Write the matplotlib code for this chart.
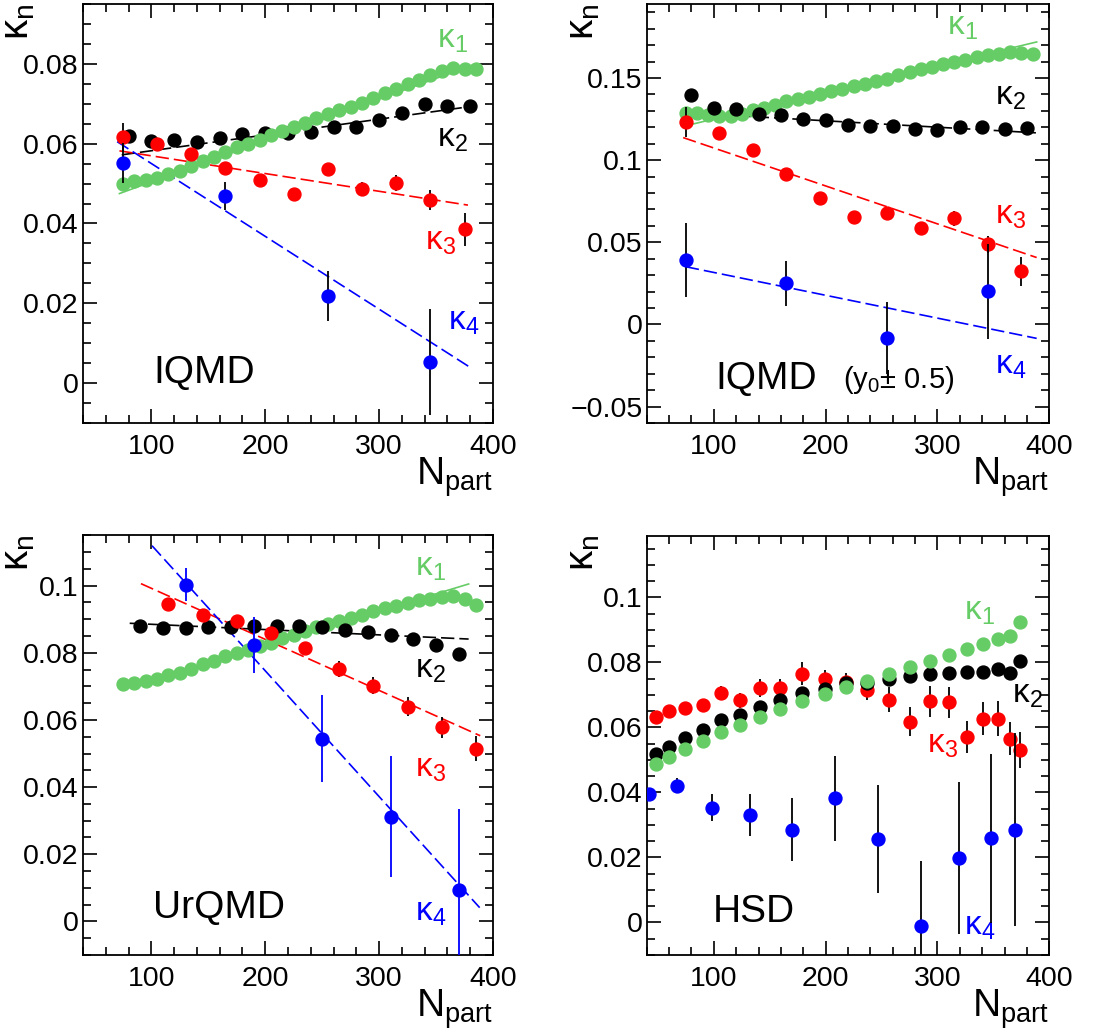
import numpy as np
import matplotlib
matplotlib.use('Agg')
import matplotlib.pyplot as plt
from matplotlib.ticker import MultipleLocator, FuncFormatter

plt.rcParams['font.family'] = ['Liberation Sans', 'DejaVu Sans']
plt.rcParams['mathtext.fontset'] = 'custom'
plt.rcParams['mathtext.rm'] = 'Liberation Sans'
plt.rcParams['mathtext.it'] = 'Liberation Sans:italic'
plt.rcParams['mathtext.default'] = 'regular'

GREEN = '#66cc66'
RED = '#ff0000'
BLUE = '#0000ff'
BLACK = '#000000'

# ---------------- IQMD ----------------
iq_k1_x = [75, 85, 95, 105, 115, 125, 135, 145, 155, 165, 175, 185, 195, 205, 215, 225,
           235, 245, 255, 265, 275, 285, 295, 305, 315, 325, 335, 345, 355, 365, 375, 385]
iq_k1_y = [0.0500, 0.0506, 0.0509, 0.0515, 0.0523, 0.0531, 0.0545, 0.0556, 0.0567, 0.0580,
           0.0592, 0.0599, 0.0609, 0.0622, 0.0632, 0.0643, 0.0651, 0.0664, 0.0674, 0.0685,
           0.0693, 0.0703, 0.0715, 0.0728, 0.0737, 0.0749, 0.0760, 0.0772, 0.0783, 0.0789,
           0.0787, 0.0787]
iq_k1_fit = ([72, 385], [0.0475, 0.0800])
iq_k2_x = [80, 100, 120, 140, 160, 180, 200, 220, 240, 260, 280, 300, 320, 340, 360, 380]
iq_k2_y = [0.0618, 0.0607, 0.0609, 0.0605, 0.0613, 0.0623, 0.0626, 0.0626, 0.0628, 0.0641,
           0.0643, 0.0659, 0.0676, 0.0699, 0.0695, 0.0695]
iq_k2_fit = ([74, 380], [0.0572, 0.0693])
iq_k3_x = [75, 105, 135, 165, 195, 225, 255, 285, 315, 345, 375]
iq_k3_y = [0.0616, 0.0599, 0.0573, 0.0540, 0.0509, 0.0475, 0.0536, 0.0486, 0.0502, 0.0460, 0.0385]
iq_k3_err = [0.0035, 0.001, 0.001, 0.001, 0.001, 0.001, 0.0012, 0.0018, 0.002, 0.0025, 0.0042]
iq_k3_fit = ([72, 378], [0.0582, 0.0446])
iq_k4_x = [75, 165, 255, 345]
iq_k4_y = [0.0551, 0.0469, 0.0218, 0.0053]
iq_k4_err = [0.005, 0.0034, 0.0062, 0.0132]
iq_k4_fit = ([70, 378.5], [0.0605, 0.0042])

# ---------------- IQMD (y0 +- 0.5) ----------------
iqy_k1_x = iq_k1_x
iqy_k1_y = [0.1289, 0.1287, 0.1273, 0.1267, 0.1269, 0.1283, 0.1303, 0.1320, 0.1338, 0.1358,
            0.1372, 0.1385, 0.1405, 0.1421, 0.1435, 0.1449, 0.1466, 0.1482, 0.1496, 0.1516,
            0.1537, 0.1553, 0.1567, 0.1583, 0.1597, 0.1612, 0.1628, 0.1638, 0.1648, 0.1658,
            0.1652, 0.1644]
iqy_k1_fit = ([73, 388.7], [0.1206, 0.1719])
iqy_k2_x = iq_k2_x
iqy_k2_y = [0.1395, 0.1320, 0.1308, 0.1283, 0.1273, 0.1249, 0.1243, 0.1216, 0.1206, 0.1206,
            0.1192, 0.1186, 0.1202, 0.1202, 0.1192, 0.1196]
iqy_k2_fit = ([72, 388], [0.1289, 0.1166])
iqy_k3_x = iq_k3_x
iqy_k3_y = [0.1232, 0.1162, 0.1060, 0.0914, 0.0772, 0.0655, 0.0675, 0.0588, 0.0645, 0.0487, 0.0324]
iqy_k3_err = [0.009, 0.002, 0.002, 0.002, 0.002, 0.002, 0.002, 0.002, 0.0045, 0.0053, 0.0088]
iqy_k3_fit = ([72.6, 388.7], [0.1137, 0.0407])
iqy_k4_x = [75, 165, 255, 345]
iqy_k4_y = [0.0391, 0.0249, -0.0081, 0.0203]
iqy_k4_err = [0.0227, 0.0137, 0.0218, 0.0289]
iqy_k4_fit = ([75, 388.7], [0.0351, -0.0085])

# ---------------- UrQMD ----------------
ur_k1_x = iq_k1_x
ur_k1_y = [0.0707, 0.0710, 0.0715, 0.0723, 0.0733, 0.0740, 0.0752, 0.0766, 0.0777, 0.0791,
           0.0799, 0.0809, 0.0819, 0.0829, 0.0844, 0.0854, 0.0864, 0.0876, 0.0886, 0.0894,
           0.0904, 0.0912, 0.0926, 0.0933, 0.0940, 0.0948, 0.0956, 0.0961, 0.0965, 0.0968,
           0.0961, 0.0943]
ur_k1_fit = ([75, 378.6], [0.0695, 0.1005])
ur_k2_x = [90, 110, 130, 150, 170, 190, 210, 230, 250, 270, 290, 310, 330, 350, 370]
ur_k2_y = [0.0881, 0.0874, 0.0874, 0.0877, 0.0877, 0.0881, 0.0881, 0.0879, 0.0877, 0.0869,
           0.0861, 0.0852, 0.0842, 0.0822, 0.0797]
ur_k2_fit = ([81, 378.6], [0.0888, 0.0841])
ur_k3_x = [115, 145, 175, 205, 235, 265, 295, 325, 355, 385]
ur_k3_y = [0.0946, 0.0914, 0.0896, 0.0859, 0.0814, 0.0752, 0.0702, 0.0640, 0.0578, 0.0515]
ur_k3_err = [0.001, 0.001, 0.001, 0.0012, 0.0015, 0.0024, 0.0026, 0.0028, 0.0031, 0.0036]
ur_k3_fit = ([90.9, 388.8], [0.1006, 0.0553])
ur_k4_x = [130, 190, 250, 310, 370]
ur_k4_y = [0.1003, 0.0824, 0.0544, 0.0312, 0.0095]
ur_k4_err = [0.005, 0.0083, 0.013, 0.018, 0.024]
ur_k4_fit = ([100.6, 388.3], [0.1119, 0.0041])

# ---------------- HSD ----------------
hsd_x = [48, 60, 74, 90, 106, 123, 141, 159, 179, 199, 218, 237, 257, 275, 293, 310,
         326, 341, 354, 365, 374]
hsd_k1_y = [0.0487, 0.0508, 0.0533, 0.0559, 0.0585, 0.0608, 0.0632, 0.0657, 0.0681, 0.0703,
            0.0723, 0.0744, 0.0765, 0.0786, 0.0803, 0.0823, 0.0841, 0.0856, 0.0872, 0.0882, 0.0923]
hsd_k2_y = [0.0517, 0.0541, 0.0567, 0.0592, 0.0623, 0.0638, 0.0662, 0.0685, 0.0707, 0.0719,
            0.0736, 0.0736, 0.0749, 0.0757, 0.0765, 0.0769, 0.0772, 0.0772, 0.0780, 0.0767, 0.0803]
hsd_k3_y = [0.0631, 0.0652, 0.0659, 0.0669, 0.0705, 0.0683, 0.0721, 0.0720, 0.0765, 0.0748,
            0.0739, 0.0716, 0.0685, 0.0618, 0.0680, 0.0677, 0.0570, 0.0627, 0.0627, 0.0566, 0.0531]
hsd_k3_err = [0.001, 0.001, 0.001, 0.0012, 0.0022, 0.0023, 0.0027, 0.0029, 0.0035, 0.003,
              0.0028, 0.003, 0.0038, 0.0044, 0.0047, 0.0049, 0.0049, 0.0051, 0.0053, 0.0052, 0.0056]
hsd_k4_x = [42, 67, 98, 132, 170, 208, 247, 285, 319, 348, 369]
hsd_k4_y = [0.0395, 0.0421, 0.0353, 0.0331, 0.0286, 0.0382, 0.0257, -0.0010, 0.0199, 0.0259, 0.0286]
hsd_k4_err = [0.001, 0.0023, 0.0041, 0.0065, 0.0098, 0.013, 0.0165, 0.02, 0.0234, 0.026, 0.0298]

W, H = 1108, 1036
fig = plt.figure(figsize=(W / 100, H / 100), dpi=100)


def px_axes(x0, y0, x1, y1):
    return fig.add_axes([x0 / W, 1 - y1 / H, (x1 - x0) / W, (y1 - y0) / H])


def fmt(v, pos):
    s = '%g' % round(v, 4)
    return s.replace('-', '\u2212')


MS = 9.3
DASH = (0, (8, 3))


def points(ax, x, y, color, err=None, ecolor=BLACK, z=3):
    if err is not None:
        ax.errorbar(x, y, yerr=err, fmt='none', ecolor=ecolor, elinewidth=1.3,
                    capsize=0, zorder=z - 0.5)
    ax.plot(x, y, 'o', color=color, ms=MS, mec=color, zorder=z)


def fit(ax, line, color, ls=DASH):
    ax.plot(line[0], line[1], color=color, lw=1.2, linestyle=ls, zorder=2)


def style(ax, ylim, ymaj, ymin):
    ax.set_xlim(40, 400)
    ax.set_ylim(*ylim)
    ax.xaxis.set_major_locator(MultipleLocator(100))
    ax.xaxis.set_minor_locator(MultipleLocator(20))
    ax.yaxis.set_major_locator(MultipleLocator(ymaj))
    ax.yaxis.set_minor_locator(MultipleLocator(ymin))
    ax.yaxis.set_major_formatter(FuncFormatter(fmt))
    ax.tick_params(which='both', direction='in', top=True, right=True, width=1.2)
    ax.tick_params(which='major', length=10, labelsize=20.5)
    ax.tick_params(axis='x', which='major', pad=8)
    ax.tick_params(axis='y', which='major', pad=3)
    ax.tick_params(which='minor', length=5.5)
    for s in ax.spines.values():
        s.set_linewidth(1.3)
    ax.text(-0.112, 1.002, r'$\kappa_n$', transform=ax.transAxes, rotation=90,
            ha='right', va='top', fontsize=29)
    ax.text(1.0, -0.078, r'$N_{part}$', transform=ax.transAxes,
            ha='right', va='top', fontsize=28)


def klabel(ax, fx, fy, n, color):
    ax.text(fx, fy, r'$\kappa_%d$' % n, transform=ax.transAxes, color=color,
            fontsize=24, ha='left', va='baseline')


# panel 1: IQMD
ax1 = px_axes(83, 4, 493, 423)
fit(ax1, iq_k1_fit, GREEN, '-')
fit(ax1, iq_k2_fit, BLACK)
fit(ax1, iq_k3_fit, RED)
fit(ax1, iq_k4_fit, BLUE)
points(ax1, iq_k2_x, iq_k2_y, BLACK, z=3)
points(ax1, iq_k1_x, iq_k1_y, GREEN, z=4)
points(ax1, iq_k3_x, iq_k3_y, RED, iq_k3_err, z=5)
points(ax1, iq_k4_x, iq_k4_y, BLUE, iq_k4_err, z=6)
style(ax1, (-0.01, 0.095), 0.02, 0.005)
klabel(ax1, 0.863, 0.897, 1, GREEN)
klabel(ax1, 0.863, 0.659, 2, BLACK)
klabel(ax1, 0.834, 0.413, 3, RED)
klabel(ax1, 0.890, 0.222, 4, BLUE)
ax1.text(0.171, 0.095, 'IQMD', transform=ax1.transAxes, fontsize=28, va='baseline')

# panel 2: IQMD (y0 +- 0.5)
ax2 = px_axes(646.7, 4, 1049.3, 423)
fit(ax2, iqy_k1_fit, GREEN, '-')
fit(ax2, iqy_k2_fit, BLACK)
fit(ax2, iqy_k3_fit, RED)
fit(ax2, iqy_k4_fit, BLUE)
points(ax2, iqy_k1_x, iqy_k1_y, GREEN, z=3)
points(ax2, iqy_k2_x, iqy_k2_y, BLACK, z=4)
points(ax2, iqy_k3_x, iqy_k3_y, RED, iqy_k3_err, z=5)
points(ax2, iqy_k4_x, iqy_k4_y, BLUE, iqy_k4_err, z=6)
style(ax2, (-0.06, 0.195), 0.05, 0.01)
klabel(ax2, 0.746, 0.926, 1, GREEN)
klabel(ax2, 0.865, 0.759, 2, BLACK)
klabel(ax2, 0.865, 0.477, 3, RED)
klabel(ax2, 0.865, 0.119, 4, BLUE)
ax2.text(0.170, 0.081, 'IQMD', transform=ax2.transAxes, fontsize=28, va='baseline')
ax2.text(0.488, 0.084, '(y$_0$\u00b1 0.5)', transform=ax2.transAxes, fontsize=21,
         va='baseline')

# panel 3: UrQMD
ax3 = px_axes(83, 535.3, 493, 955)
fit(ax3, ur_k1_fit, GREEN, '-')
fit(ax3, ur_k2_fit, BLACK)
fit(ax3, ur_k3_fit, RED)
fit(ax3, ur_k4_fit, BLUE)
points(ax3, ur_k1_x, ur_k1_y, GREEN, z=3)
points(ax3, ur_k2_x, ur_k2_y, BLACK, z=4)
points(ax3, ur_k3_x, ur_k3_y, RED, ur_k3_err, z=5)
points(ax3, ur_k4_x, ur_k4_y, BLUE, ur_k4_err, ecolor=BLUE, z=6)
style(ax3, (-0.01, 0.115), 0.02, 0.005)
klabel(ax3, 0.810, 0.905, 1, GREEN)
klabel(ax3, 0.810, 0.660, 2, BLACK)
klabel(ax3, 0.810, 0.424, 3, RED)
klabel(ax3, 0.810, 0.083, 4, BLUE)
ax3.text(0.171, 0.088, 'UrQMD', transform=ax3.transAxes, fontsize=28, va='baseline')

# panel 4: HSD
ax4 = px_axes(646.7, 535.7, 1049.3, 955)
points(ax4, hsd_x, hsd_k3_y, RED, hsd_k3_err, z=3)
points(ax4, hsd_x, hsd_k2_y, BLACK, z=4)
points(ax4, hsd_x, hsd_k1_y, GREEN, z=5)
points(ax4, hsd_k4_x, hsd_k4_y, BLUE, hsd_k4_err, z=6)
style(ax4, (-0.01, 0.119), 0.02, 0.005)
klabel(ax4, 0.788, 0.799, 1, GREEN)
klabel(ax4, 0.907, 0.601, 2, BLACK)
klabel(ax4, 0.696, 0.482, 3, RED)
klabel(ax4, 0.788, 0.048, 4, BLUE)
ax4.text(0.165, 0.079, 'HSD', transform=ax4.transAxes, fontsize=28, va='baseline')

fig.savefig('out.png', dpi=100)
